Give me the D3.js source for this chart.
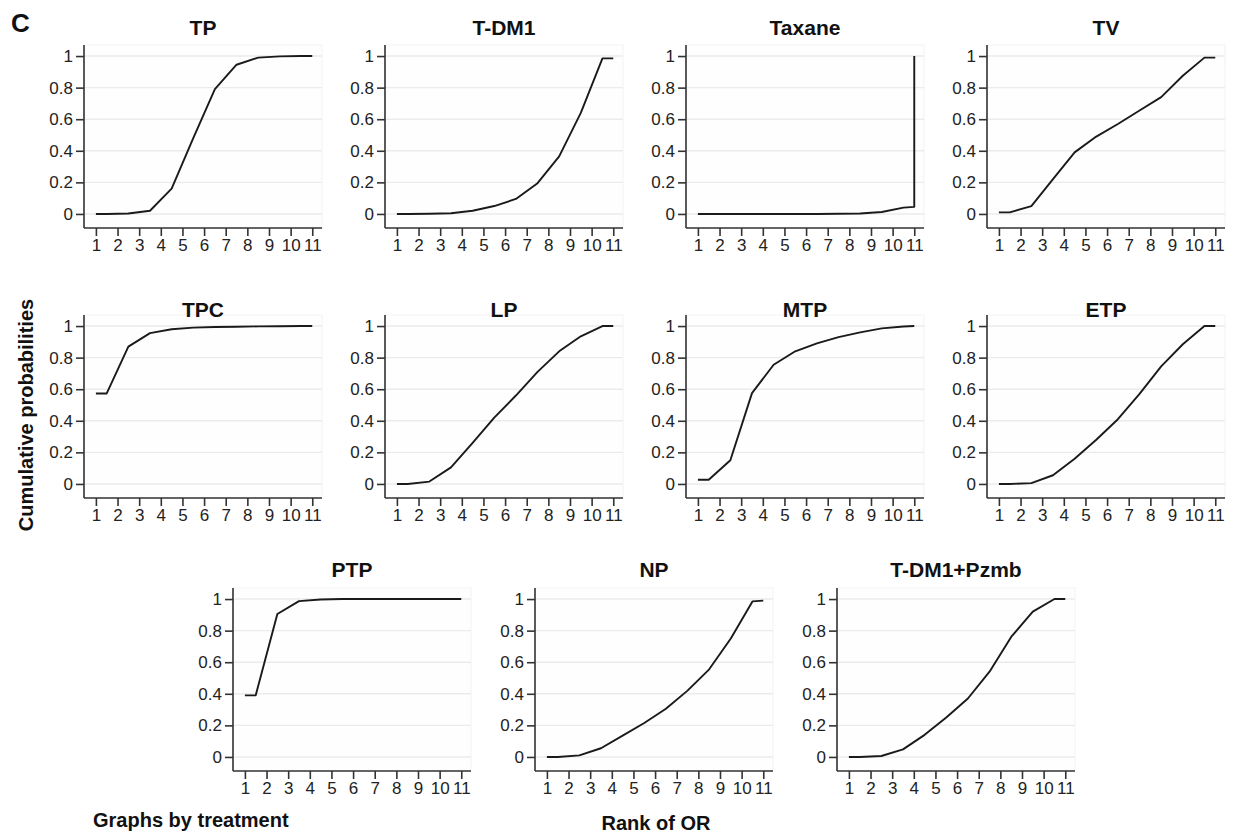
<!DOCTYPE html>
<html>
<head>
<meta charset="utf-8">
<script src="https://cdn.jsdelivr.net/npm/d3@7"></script>
<style>
  body { margin: 0; background: #fff; }
  text { font-family: "Liberation Sans", Arial, sans-serif; }
</style>
</head>
<body>
<script>
// rank positions where the cumulative ranking curve has a vertex
var rankPos = [1, 1.5, 2.5, 3.5, 4.5, 5.5, 6.5, 7.5, 8.5, 9.5, 10.5, 11];
var taxanePos = [1, 1.5, 2.5, 3.5, 4.5, 5.5, 6.5, 7.5, 8.5, 9.5, 10.5, 11, 11];
var rankTicks = [1, 2, 3, 4, 5, 6, 7, 8, 9, 10, 11];
var probTicks = [0, 0.2, 0.4, 0.6, 0.8, 1];

var treatments = ["TP", "T-DM1", "Taxane", "TV", "TPC", "LP", "MTP", "ETP", "PTP", "NP", "T-DM1+Pzmb"];

var tpVals     = [0, 0, 0.003, 0.02, 0.16, 0.48, 0.79, 0.945, 0.99, 0.998, 1, 1];
var tdm1Vals   = [0, 0, 0.001, 0.004, 0.02, 0.05, 0.095, 0.195, 0.365, 0.64, 0.985, 0.985];
var taxaneVals = [0, 0, 0, 0, 0, 0, 0, 0.001, 0.003, 0.012, 0.04, 0.045, 1];
var tvVals     = [0.01, 0.01, 0.05, 0.22, 0.39, 0.49, 0.57, 0.655, 0.74, 0.875, 0.99, 0.99];
var tpcVals    = [0.573, 0.573, 0.87, 0.955, 0.98, 0.99, 0.994, 0.996, 0.998, 0.999, 1, 1];
var lpVals     = [0, 0, 0.015, 0.105, 0.26, 0.42, 0.56, 0.71, 0.84, 0.935, 1, 1];
var mtpVals    = [0.027, 0.027, 0.15, 0.575, 0.755, 0.84, 0.89, 0.93, 0.96, 0.985, 0.997, 1];
var etpVals    = [0, 0, 0.005, 0.055, 0.16, 0.28, 0.41, 0.57, 0.745, 0.885, 1, 1];
var ptpVals    = [0.39, 0.39, 0.905, 0.987, 0.997, 1, 1, 1, 1, 1, 1, 1];
var npVals     = [0, 0, 0.01, 0.055, 0.135, 0.215, 0.305, 0.42, 0.555, 0.75, 0.985, 0.99];
var tdmpVals   = [0, 0, 0.006, 0.048, 0.14, 0.25, 0.37, 0.54, 0.76, 0.92, 1, 1];

var seriesVals = [tpVals, tdm1Vals, taxaneVals, tvVals, tpcVals, lpVals, mtpVals, etpVals, ptpVals, npVals, tdmpVals];
var seriesPos = [rankPos, rankPos, taxanePos, rankPos, rankPos, rankPos, rankPos, rankPos, rankPos, rankPos, rankPos];

var width = 1233, height = 837;
var svg = d3.select("body").append("svg").attr("width", width).attr("height", height);

// panel layout
var rowTop = [45, 315, 588];
var rowTitle = [35, 316.5, 577];
var rowX = [[84, 385, 686, 987], [84, 385, 686, 987], [233, 535, 837]];
var plotW = 238, plotH = 183;

var panels = [];
rowX.forEach(function (xs, r) {
    xs.forEach(function (x0) {
        panels.push({ x0: x0, top: rowTop[r], titleY: rowTitle[r] });
    });
});

var x = d3.scaleLinear().domain([0.45, 11.45]).range([0, plotW]);
var y = d3.scaleLinear().domain([-0.089, 1.07]).range([plotH, 0]);

var line = d3.line()
    .x(function (d) { return x(d[0]); })
    .y(function (d) { return y(d[1]); });

panels.forEach(function (p, i) {
    var g = svg.append("g").attr("transform", "translate(" + p.x0 + "," + p.top + ")");

    g.append("rect").attr("x", 0).attr("y", 0).attr("width", plotW).attr("height", plotH)
        .attr("fill", "#fefefe").attr("stroke", "#f3f3f3");

    g.selectAll("line.grid").data(probTicks).enter().append("line")
        .attr("class", "grid")
        .attr("x1", 0).attr("x2", plotW)
        .attr("y1", function (d) { return y(d); }).attr("y2", function (d) { return y(d); })
        .attr("stroke", "#ebebeb").attr("stroke-width", 1.4);

    var xAxis = g.append("g").attr("transform", "translate(0," + plotH + ")")
        .call(d3.axisBottom(x).tickValues(rankTicks).tickSize(8).tickPadding(3).tickFormat(d3.format("d")));
    var yAxis = g.append("g")
        .call(d3.axisLeft(y).tickValues(probTicks).tickSize(8).tickPadding(3).tickFormat(function (d) { return d3.format("")(d); }));

    [xAxis, yAxis].forEach(function (a) {
        a.select(".domain").attr("stroke", "#333").attr("stroke-width", 1.6);
        a.selectAll(".tick line").attr("stroke", "#333").attr("stroke-width", 1.6);
        a.selectAll(".tick text").attr("fill", "#222").style("font-size", "17px")
            .style("font-family", "'Liberation Sans', Arial, sans-serif");
    });
    xAxis.select(".domain").attr("d", "M0,0H" + plotW);
    yAxis.select(".domain").attr("d", "M0,0V" + plotH);

    var pts = seriesPos[i].map(function (r, k) { return [r, seriesVals[i][k]]; });
    g.append("path").datum(pts).attr("d", line)
        .attr("fill", "none").attr("stroke", "#1a1a1a").attr("stroke-width", 1.9)
        .attr("stroke-linejoin", "round");

    svg.append("text").attr("x", p.x0 + plotW / 2).attr("y", p.titleY)
        .attr("text-anchor", "middle").style("font-size", "21px").style("font-weight", "bold")
        .attr("fill", "#111").text(treatments[i]);
});

svg.append("text").attr("x", 11).attr("y", 32)
    .style("font-size", "26px").style("font-weight", "bold").attr("fill", "#111").text("C");

svg.append("text").attr("transform", "translate(33,415) rotate(-90)")
    .attr("text-anchor", "middle").style("font-size", "20px").style("font-weight", "bold")
    .attr("fill", "#111").text("Cumulative probabilities");

svg.append("text").attr("x", 93).attr("y", 827)
    .style("font-size", "20px").style("font-weight", "bold").attr("fill", "#111").text("Graphs by treatment");

svg.append("text").attr("x", 656).attr("y", 830).attr("text-anchor", "middle")
    .style("font-size", "20px").style("font-weight", "bold").attr("fill", "#111").text("Rank of OR");
</script>
</body>
</html>
